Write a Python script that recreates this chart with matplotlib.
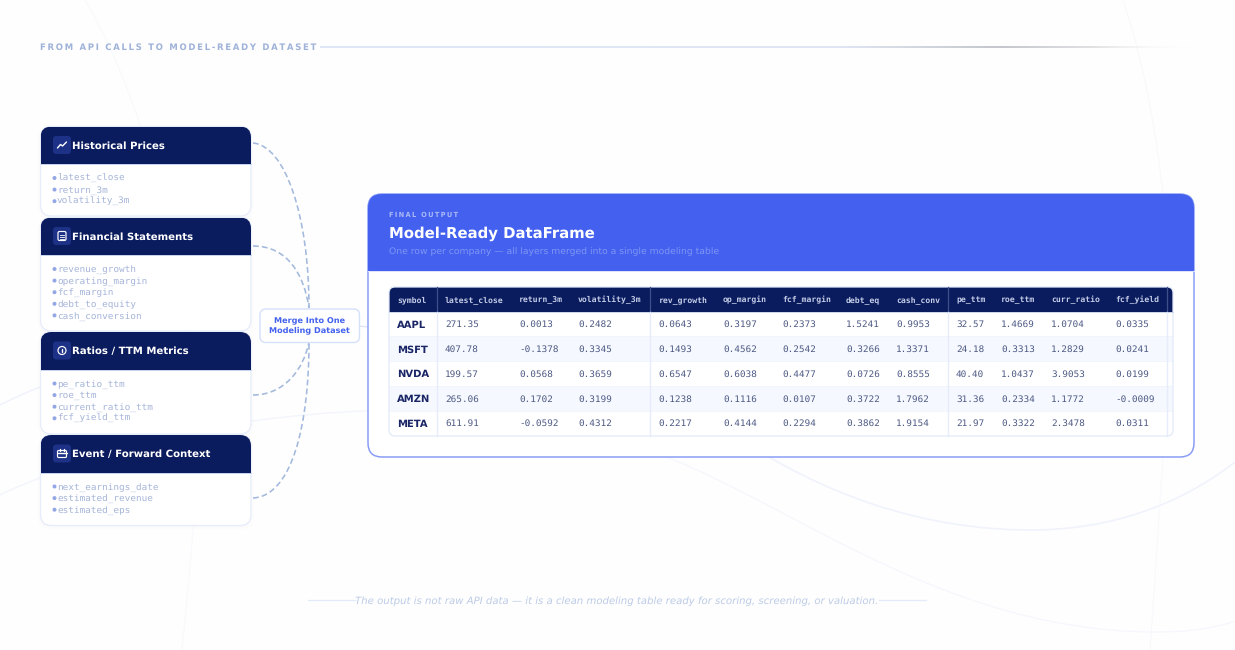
import numpy as np
import matplotlib
matplotlib.use("Agg")
import matplotlib.pyplot as plt
from matplotlib.patches import FancyBboxPatch, Rectangle, PathPatch, Circle
from matplotlib.path import Path

plt.rcParams["text.hinting"] = "none"

# source cards
card_titles = ["Historical Prices", "Financial Statements", "Ratios / TTM Metrics", "Event / Forward Context"]
price_fields = ["latest_close", "return_3m", "volatility_3m"]
statement_fields = ["revenue_growth", "operating_margin", "fcf_margin", "debt_to_equity", "cash_conversion"]
ratio_fields = ["pe_ratio_ttm", "roe_ttm", "current_ratio_ttm", "fcf_yield_ttm"]
event_fields = ["next_earnings_date", "estimated_revenue", "estimated_eps"]

# final table
symbols = ["AAPL", "MSFT", "NVDA", "AMZN", "META"]
columns = ["latest_close", "return_3m", "volatility_3m", "rev_growth", "op_margin", "fcf_margin",
           "debt_eq", "cash_conv", "pe_ttm", "roe_ttm", "curr_ratio", "fcf_yield"]
latest_close = ["271.35", "407.78", "199.57", "265.06", "611.91"]
return_3m = ["0.0013", "-0.1378", "0.0568", "0.1702", "-0.0592"]
volatility_3m = ["0.2482", "0.3345", "0.3659", "0.3199", "0.4312"]
rev_growth = ["0.0643", "0.1493", "0.6547", "0.1238", "0.2217"]
op_margin = ["0.3197", "0.4562", "0.6038", "0.1116", "0.4144"]
fcf_margin = ["0.2373", "0.2542", "0.4477", "0.0107", "0.2294"]
debt_eq = ["1.5241", "0.3266", "0.0726", "0.3722", "0.3862"]
cash_conv = ["0.9953", "1.3371", "0.8555", "1.7962", "1.9154"]
pe_ttm = ["32.57", "24.18", "40.40", "31.36", "21.97"]
roe_ttm = ["1.4669", "0.3313", "1.0437", "0.2334", "0.3322"]
curr_ratio = ["1.0704", "1.2829", "3.9053", "1.1772", "2.3478"]
fcf_yield = ["0.0335", "0.0241", "0.0199", "-0.0009", "0.0311"]

NAVY = "#0b1c5e"
BLUE = "#4361ee"
EDGE = "#e2e9f9"
MONO = "DejaVu Sans Mono"

W, H = 1235, 650
fig = plt.figure(figsize=(W / 100, H / 100), dpi=100, facecolor="#fefefe")
ax = fig.add_axes([0, 0, 1, 1])
ax.set_xlim(0, W)
ax.set_ylim(H, 0)
ax.axis("off")


def spaced(s):
    # no letter-spacing in matplotlib, thin spaces get close
    return "\u2009".join(s)


def rounded(x0, y0, x1, y1, r, **kw):
    p = FancyBboxPatch((x0, y0), x1 - x0, y1 - y0, boxstyle=f"round,pad=0,rounding_size={r}", **kw)
    ax.add_patch(p)
    return p


def curve(pts, color, lw, **kw):
    codes = [Path.MOVETO] + [Path.CURVE4] * (len(pts) - 1)
    p = PathPatch(Path(pts, codes), fc="none", ec=color, lw=lw, **kw)
    ax.add_patch(p)
    return p


def soft_shadow(x0, y0, x1, y1, r, spread, color, alpha, dy):
    for i in range(spread, 0, -2):
        rounded(x0 - i, y0 - i + dy, x1 + i, y1 + i + dy, r + i, fc=color, ec="none", alpha=alpha, zorder=1)


# faint background curves
curve([(769, 457), (860, 510), (950, 530), (1031, 530), (1110, 530), (1180, 505), (1235, 462)], "#f0f3fc", 1.2, zorder=0)
curve([(667, 457), (800, 510), (950, 632), (1156, 632), (1190, 632), (1215, 628), (1235, 621)], "#f5f7fc", 0.9, zorder=0)
curve([(1123, 0), (1160, 110), (1172, 250), (1168, 330), (1165, 460), (1155, 570), (1150, 650)], "#f8f9fc", 0.8, zorder=0)
curve([(85, 0), (150, 110), (200, 300), (193, 527), (190, 570), (186, 610), (182, 650)], "#f8f9fc", 0.8, zorder=0)
curve([(0, 405), (14, 398), (27, 392), (40, 387)], "#eff2fc", 1.0, zorder=0)
curve([(0, 495), (14, 488), (27, 483), (40, 478)], "#f3f5fc", 1.0, zorder=0)
curve([(252, 421), (290, 416), (330, 412), (368, 411)], "#f3f5fc", 1.0, zorder=0)

# top label and rule, the rule fades out to the right
ax.text(40, 50, spaced("FROM API CALLS TO MODEL-READY DATASET"), fontsize=6.13, fontweight="bold",
        color="#9fb2d9", va="baseline", ha="left")
stops_x = [320, 840, 1000, 1090, 1195]
stops_c = [(0.875, 0.906, 0.969, 1), (0.875, 0.90, 0.95, 1), (0.77, 0.78, 0.80, 1), (0.88, 0.88, 0.89, 1), (1, 1, 1, 0)]
xs = np.arange(320, 1195)
strip = np.stack([np.interp(xs, stops_x, [c[k] for c in stops_c]) for k in range(4)], axis=1)[None, :, :]
ax.imshow(strip, extent=(320, 1195, 47.6, 46.4), aspect="auto", zorder=1, interpolation="bilinear")
ax.set_xlim(0, W)
ax.set_ylim(H, 0)

# connectors
connectors = [
    [(253, 143), (285, 146), (309, 215), (309, 308)],
    [(253, 246), (288, 246), (304, 275), (309, 308)],
    [(253, 395), (285, 395), (304, 368), (309, 342)],
    [(253, 498), (292, 496), (309, 425), (309, 342)],
]
for pts in connectors:
    curve(pts, "#a3b9dd", 1.15, ls=(0, (3.6, 2.0)), zorder=2)
ax.plot([359, 368], [326, 327], color="#dbe3f8", lw=0.9, zorder=2)


def draw_icon(kind, cx, cy):
    rounded(cx - 9, cy - 9, cx + 9, cy + 9, 3, fc="#1d3186", ec="none", zorder=5)
    white = dict(color="white", lw=1.0, zorder=6, solid_capstyle="round")
    if kind == 0:
        ax.plot([cx - 4.5, cx - 1.5, cx + 0.5, cx + 4.5], [cy + 3, cy - 0.5, cy + 1, cy - 3], **white)
    elif kind == 1:
        rounded(cx - 4, cy - 4.5, cx + 4, cy + 4.5, 1.5, fc="none", ec="white", lw=0.85, zorder=6)
        for dy in (-1.5, 0.5, 2.5):
            ax.plot([cx - 2.3, cx + 2.3], [cy + dy, cy + dy], color="white", lw=0.6, zorder=6)
    elif kind == 2:
        ax.add_patch(Circle((cx, cy), 4, fc="none", ec="white", lw=0.85, zorder=6))
        ax.plot([cx, cx], [cy - 2, cy + 1], **white)
    else:
        rounded(cx - 4.5, cy - 3, cx + 4.5, cy + 4, 1.2, fc="none", ec="white", lw=0.85, zorder=6)
        ax.plot([cx - 4.5, cx + 4.5], [cy - 0.3, cy - 0.3], **white)
        ax.plot([cx - 2, cx - 2], [cy - 4.5, cy - 2.5], **white)
        ax.plot([cx + 2, cx + 2], [cy - 4.5, cy - 2.5], **white)


# source cards
card_tops = [126.5, 217.5, 332, 435]
card_bottoms = [216, 331, 434, 525.5]
card_fields = [price_fields, statement_fields, ratio_fields, event_fields]
for i, title in enumerate(card_titles):
    top, bottom = card_tops[i], card_bottoms[i]
    soft_shadow(40.5, top, 251, bottom, 11, 3, "#4361ee", 0.006, 1)
    card = rounded(40.5, top, 251, bottom, 11, fc="white", ec="#e6ecfa", lw=0.9, zorder=3)
    head = Rectangle((40.5, top), 210.5, 37.5, fc=NAVY, ec="none", zorder=4)
    ax.add_patch(head)
    head.set_clip_path(card)
    ax.plot([40.5, 251], [top + 37.5, top + 37.5], color="#c6d2ec", lw=0.7, zorder=4)
    draw_icon(i, 62, top + 18.5)
    ax.text(72, top + 22, title, fontsize=7.3, fontweight="bold", color="white", va="baseline", ha="left", zorder=6)
    for j, field in enumerate(card_fields[i]):
        y = top + 51.5 + j * 11.6
        ax.add_patch(Circle((54.5, y), 2.0, fc="#93a6e6", ec="none", zorder=5))
        ax.text(57, y + 3.0, field, fontsize=6.75, family=MONO, color="#a5b4d8", va="baseline", ha="left", zorder=5)

# merge box
rounded(260, 309, 359.5, 342.5, 6, fc="white", ec="#d5e0fa", lw=1.0, zorder=4)
ax.text(309.5, 325.5, "Merge Into One\nModeling Dataset", fontsize=5.85, fontweight="bold", color=BLUE,
        va="center", ha="center", linespacing=1.25, zorder=5)

# main card
soft_shadow(368, 194, 1194, 457, 14, 26, "#4361ee", 0.0016, 8)
main = rounded(368, 194, 1194, 457, 14, fc="white", ec="#8a9df5", lw=1.1, zorder=3)
head = Rectangle((368, 194), 826, 77, fc=BLUE, ec="none", zorder=4)
ax.add_patch(head)
head.set_clip_path(main)
ax.plot([368, 1194], [271, 271], color="#dbe3fb", lw=0.7, zorder=4)
ax.text(389, 217, spaced("FINAL OUTPUT"), fontsize=4.75, fontweight="bold", color="#a9b8f8", va="baseline", zorder=5)
ax.text(389, 237.6, "Model-Ready DataFrame", fontsize=10.7, fontweight="bold", color="white", va="baseline", zorder=5)
ax.text(389, 254.5, "One row per company \u2014 all layers merged into a single modeling table", fontsize=6.71,
        color="#7f96f5", va="baseline", zorder=5)

# table
t_left, t_right, t_top, t_bottom = 389, 1173, 287, 436
head_bottom = 312
row_y = [324, 349, 373.5, 398.5, 423]
row_edges = [312, 336, 361, 385.5, 411, 436]
col_x = [445, 519, 578, 658.5, 723, 782, 846, 896, 956, 1001, 1051, 1115]
seps = [436.5, 649.5, 947.5, 1167]
col_values = [latest_close, return_3m, volatility_3m, rev_growth, op_margin, fcf_margin,
              debt_eq, cash_conv, pe_ttm, roe_ttm, curr_ratio, fcf_yield]

frame = rounded(t_left, t_top, t_right, t_bottom, 6, fc="white", ec="none", zorder=4)
for r in (1, 3):
    band = Rectangle((t_left, row_edges[r]), t_right - t_left, row_edges[r + 1] - row_edges[r], fc="#f5f8fe", ec="none", zorder=4.1)
    ax.add_patch(band)
    band.set_clip_path(frame)
for y in row_edges[1:-1]:
    ax.plot([t_left, t_right], [y, y], color="#f1f4fc", lw=0.6, zorder=4.2)
band = Rectangle((t_left, t_top), t_right - t_left, head_bottom - t_top, fc=NAVY, ec="none", zorder=4.3)
ax.add_patch(band)
band.set_clip_path(frame)
rounded(t_left, t_top, t_right, t_bottom, 6, fc="none", ec=EDGE, lw=0.9, zorder=4.4)
ax.plot([t_left, t_right], [head_bottom, head_bottom], color="#c3cfe9", lw=0.6, zorder=4.5)
for x in seps:
    ax.plot([x, x], [t_top, head_bottom], color="#3f4f8c", lw=0.9, zorder=4.5)
    ax.plot([x, x], [head_bottom, t_bottom], color="#e6ecfa", lw=1.0, zorder=4.5)

ax.text(397, 302, "symbol", fontsize=5.85, family=MONO, fontweight="bold", color="#c3cde8", va="baseline", zorder=5)
for x, name in zip(col_x, columns):
    ax.text(x, 302, name, fontsize=5.85, family=MONO, fontweight="bold", color="#c3cde8", va="baseline", zorder=5)
for y, sym in zip(row_y, symbols):
    ax.text(397, y + 3.8, sym, fontsize=7.2, fontweight="bold", color="#1a2566", va="baseline", zorder=5)
for x, vals in zip(col_x, col_values):
    for y, v in zip(row_y, vals):
        ax.text(x, y + 3.0, v, fontsize=6.75, family=MONO, color="#4f5b85", va="baseline", zorder=5)

# footer
ax.plot([308, 355], [600, 600], color="#e3eafa", lw=0.9, zorder=2)
ax.plot([879, 926], [600, 600], color="#e3eafa", lw=0.9, zorder=2)
ax.text(616.5, 603.5, "The output is not raw API data \u2014 it is a clean modeling table ready for scoring, screening, or valuation.",
        fontsize=7.33, style="italic", color="#bccbe6", va="baseline", ha="center", zorder=5)

fig.savefig("out.png", dpi=100, facecolor=fig.get_facecolor())
